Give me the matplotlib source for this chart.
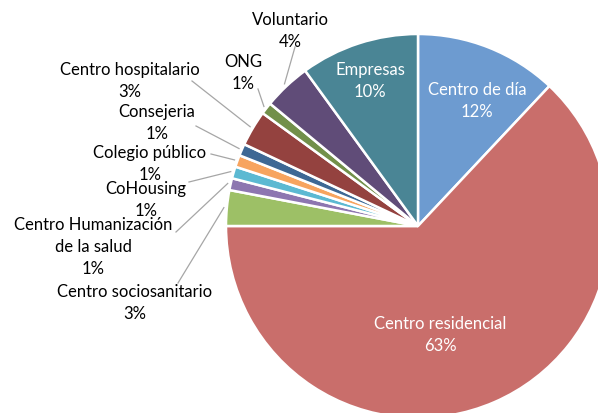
import matplotlib.pyplot as plt
import numpy as np

plt.rcParams['font.family'] = ['Lato', 'DejaVu Sans']

etiquetas = ['Centro de día', 'Centro residencial', 'Centro sociosanitario',
             'Centro Humanización\nde la salud', 'CoHousing', 'Colegio público',
             'Consejeria', 'Centro hospitalario', 'ONG', 'Voluntario', 'Empresas']
valores = [12, 63, 3, 1, 1, 1, 1, 3, 1, 4, 10]
colores = ['#6d9bd0', '#c96e6b', '#9dc066', '#8d76b0', '#5cb9d2', '#f7a45f',
           '#3e6894', '#94423f', '#72904a', '#604c78', '#4a8595']

# posiciones de las etiquetas (pixeles, y hacia abajo)
pos_texto = [(477, 101), (440, 335), (135, 303), (93, 247), (146, 200),
             (150, 164), (157, 123), (130, 81), (243, 73), (290, 31), (370, 81)]
dentro = [True, True, False, False, False, False, False, False, False, False, True]
# inicio de las lineas guia
inicio_linea = [None, None, (178, 284), (176, 233), (189, 183), (211, 155),
                (196, 127), (192, 82), (258, 90), (295, 48), None]

cx, cy, r = 418, 227, 192

fig = plt.figure(figsize=(5.98, 4.14), dpi=100)
ax = fig.add_axes([0, 0, 1, 1])
ax.axis('off')

wedges, _ = ax.pie(valores, colors=colores, startangle=-90, counterclock=True,
                   center=(cx, cy), radius=r,
                   wedgeprops=dict(edgecolor='white', linewidth=1.8))
ax.set_xlim(0, 598)
ax.set_ylim(414, 0)
ax.set_aspect('equal')

for i, w in enumerate(wedges):
    texto = etiquetas[i] + '\n' + str(valores[i]) + '%'
    x, y = pos_texto[i]
    ax.text(x, y, texto, ha='center', va='center', fontsize=12,
            color='white' if dentro[i] else 'black', linespacing=1.45)
    if inicio_linea[i] is not None:
        ang = np.radians((w.theta1 + w.theta2) / 2)
        ax_ = cx + (r + 3) * np.cos(ang)
        ay_ = cy + (r + 3) * np.sin(ang)
        x0, y0 = inicio_linea[i]
        ax.plot([x0, ax_], [y0, ay_], color='#a6a6a6', lw=0.9)

fig.savefig('out.png', dpi=100)
